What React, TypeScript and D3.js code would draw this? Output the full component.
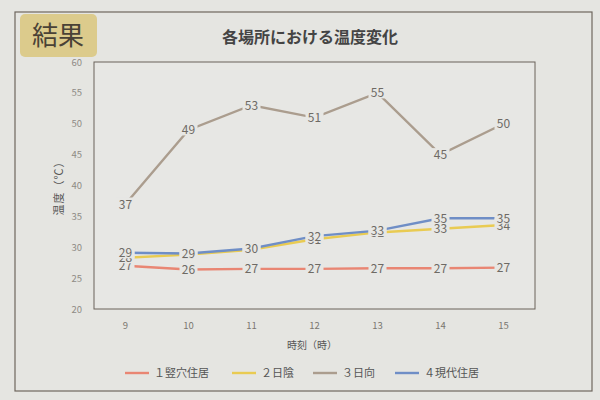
import React from "react";
import * as d3 from "d3";

const hours = [9, 10, 11, 12, 13, 14, 15];
const yTicks = [20, 25, 30, 35, 40, 45, 50, 55, 60];
const pitDwelling = [27.0, 26.4, 26.5, 26.5, 26.6, 26.6, 26.7];
const shade = [28.3, 28.8, 29.6, 31.3, 32.4, 33.0, 33.6];
const sunny = [37, 49, 53, 51, 55, 45, 50];
const modernHouse = [29.1, 29.0, 29.8, 31.8, 32.7, 34.7, 34.7];
const seriesNames = ["１竪穴住居", "２日陰", "３日向", "４現代住居"];
const seriesColors = ["#e98673", "#e9cb52", "#ab9d8e", "#6f8ec6"];
const seriesValues = [pitDwelling, shade, sunny, modernHouse];

const W = 600;
const H = 400;
const BG = "#e5e5e1";
const FONT = "'Noto Sans CJK JP', 'Noto Sans', sans-serif";

export default function App() {
  const plot = { left: 94, right: 535, top: 62, bottom: 309 };
  const x = d3
    .scalePoint<number>()
    .domain(hours)
    .range([plot.left, plot.right])
    .padding(0.5);
  const y = d3.scaleLinear().domain([20, 60]).range([plot.bottom, plot.top]);
  const line = d3
    .line<number>()
    .x((_, i) => x(hours[i]) as number)
    .y((d) => y(d));

  const legendX = [125, 232, 313, 395];

  return (
    <svg
      width={W}
      height={H}
      style={{ position: "absolute", left: 0, top: 0, display: "block" }}
      fontFamily={FONT}
    >
      <rect x={0} y={0} width={W} height={H} fill={BG} />
      {/* outer frame */}
      <rect x={15} y={12} width={577} height={379} fill="none" stroke="#6e665e" strokeWidth={1.2} />
      {/* badge */}
      <rect x={20} y={14} width={77} height={43} rx={5} fill="#dccb8c" />
      <text x={58} y={45} textAnchor="middle" fontSize={26} fill="#4a4236">
        結果
      </text>
      {/* title */}
      <text x={310} y={43} textAnchor="middle" fontSize={16} fontWeight="bold" fill="#444">
        各場所における温度変化
      </text>

      {/* plot box */}
      <rect
        x={plot.left}
        y={plot.top}
        width={plot.right - plot.left}
        height={plot.bottom - plot.top}
        fill="#e7e7e4"
        stroke="#6a625a"
        strokeWidth={1}
      />

      {/* y ticks */}
      {yTicks.map((t) => (
        <text key={t} x={82} y={y(t) + 3.5} textAnchor="end" fontSize={9.5} fill="#8f8b85">
          {t}
        </text>
      ))}
      <text
        transform={`translate(63,${(plot.top + plot.bottom) / 2}) rotate(-90)`}
        textAnchor="middle"
        fontSize={11}
        fill="#555"
        letterSpacing={1}
      >
        温度（℃）
      </text>

      {/* x ticks */}
      {hours.map((h) => (
        <text key={h} x={x(h)} y={329} textAnchor="middle" fontSize={9.5} fill="#7a7670">
          {h}
        </text>
      ))}
      <text x={312} y={349} textAnchor="middle" fontSize={10} fill="#555">
        時刻（時）
      </text>

      {/* lines */}
      {seriesValues.map((vals, si) => (
        <path
          key={si}
          d={line(vals) || ""}
          fill="none"
          stroke={seriesColors[si]}
          strokeWidth={2.4}
        />
      ))}

      {/* data labels */}
      {seriesValues.map((vals, si) =>
        vals.map((v, i) => {
          const cx = x(hours[i]) as number;
          const cy = y(v);
          return (
            <g key={`${si}-${i}`}>
              <rect x={cx - 9} y={cy - 6.5} width={18} height={12} fill="#e7e7e4" />
              <text x={cx} y={cy + 4.5} textAnchor="middle" fontSize={12} fill="#6e6a64">
                {Math.round(v)}
              </text>
            </g>
          );
        })
      )}

      {/* legend */}
      {seriesNames.map((name, i) => (
        <g key={name}>
          <line
            x1={legendX[i]}
            x2={legendX[i] + 24}
            y1={373}
            y2={373}
            stroke={seriesColors[i]}
            strokeWidth={2.4}
          />
          <text x={legendX[i] + 29} y={377} fontSize={11} fill="#555">
            {name}
          </text>
        </g>
      ))}
    </svg>
  );
}
